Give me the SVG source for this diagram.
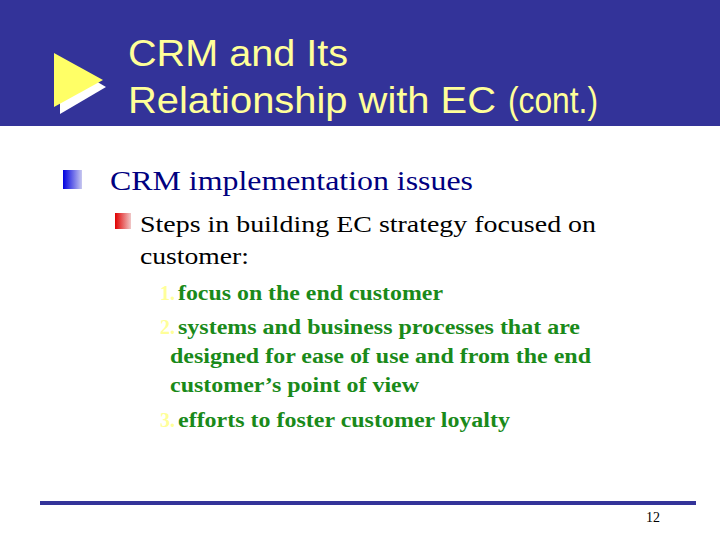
<svg xmlns="http://www.w3.org/2000/svg" width="720" height="540" viewBox="0 0 720 540">
<defs>
<linearGradient id="gb" x1="0" x2="1"><stop offset="0" stop-color="#0000e0"/><stop offset="1" stop-color="#c8c8f0"/></linearGradient>
<linearGradient id="gr" x1="0" x2="1"><stop offset="0" stop-color="#e00000"/><stop offset="1" stop-color="#f0c8c8"/></linearGradient>
<style>
.t{font-family:"Liberation Sans",Arial,sans-serif;font-size:36px;fill:#ffff99}
.s{font-family:"Liberation Serif","Times New Roman",serif}
.g{font-family:"Liberation Serif","Times New Roman",serif;font-size:20px;font-weight:bold;fill:#1a8a1a}
.n{font-family:"Liberation Serif","Times New Roman",serif;font-size:20px;font-weight:bold;fill:#ffff99}
</style>
</defs>
<rect x="0" y="0" width="720" height="126" fill="#333399"/>
<polygon points="60,60 106,87 60,114" fill="#ffffff"/>
<polygon points="54,53 103,80 54,107" fill="#ffff66"/>
<text class="t" x="128" y="66" textLength="220" lengthAdjust="spacingAndGlyphs">CRM and Its</text>
<text class="t" x="128" y="113" textLength="368" lengthAdjust="spacingAndGlyphs">Relationship with EC</text>
<text class="t" x="508" y="113" font-size="26" textLength="90" lengthAdjust="spacingAndGlyphs">(cont.)</text>
<rect x="63" y="170" width="19" height="19" fill="url(#gb)"/>
<text class="s" x="110" y="190" font-size="28" fill="#000080" textLength="363" lengthAdjust="spacingAndGlyphs">CRM implementation issues</text>
<rect x="115" y="213" width="16" height="16" fill="url(#gr)"/>
<text class="s" x="140" y="232" font-size="24" fill="#000" textLength="456" lengthAdjust="spacingAndGlyphs">Steps in building EC strategy focused on</text>
<text class="s" x="140" y="264" font-size="24" fill="#000" textLength="109" lengthAdjust="spacingAndGlyphs">customer:</text>
<text class="n" x="160" y="300">1.</text>
<text class="g" x="178" y="300" textLength="265" lengthAdjust="spacingAndGlyphs">focus on the end customer</text>
<text class="n" x="160" y="334">2.</text>
<text class="g" x="178" y="334" textLength="402" lengthAdjust="spacingAndGlyphs">systems and business processes that are</text>
<text class="g" x="170" y="363" textLength="421" lengthAdjust="spacingAndGlyphs">designed for ease of use and from the end</text>
<text class="g" x="170" y="392" textLength="249" lengthAdjust="spacingAndGlyphs">customer’s point of view</text>
<text class="n" x="160" y="427">3.</text>
<text class="g" x="178" y="427" textLength="332" lengthAdjust="spacingAndGlyphs">efforts to foster customer loyalty</text>
<rect x="40" y="501" width="656" height="4" fill="#333399"/>
<text class="s" x="660" y="522" font-size="14" text-anchor="end" fill="#000">12</text>
</svg>
